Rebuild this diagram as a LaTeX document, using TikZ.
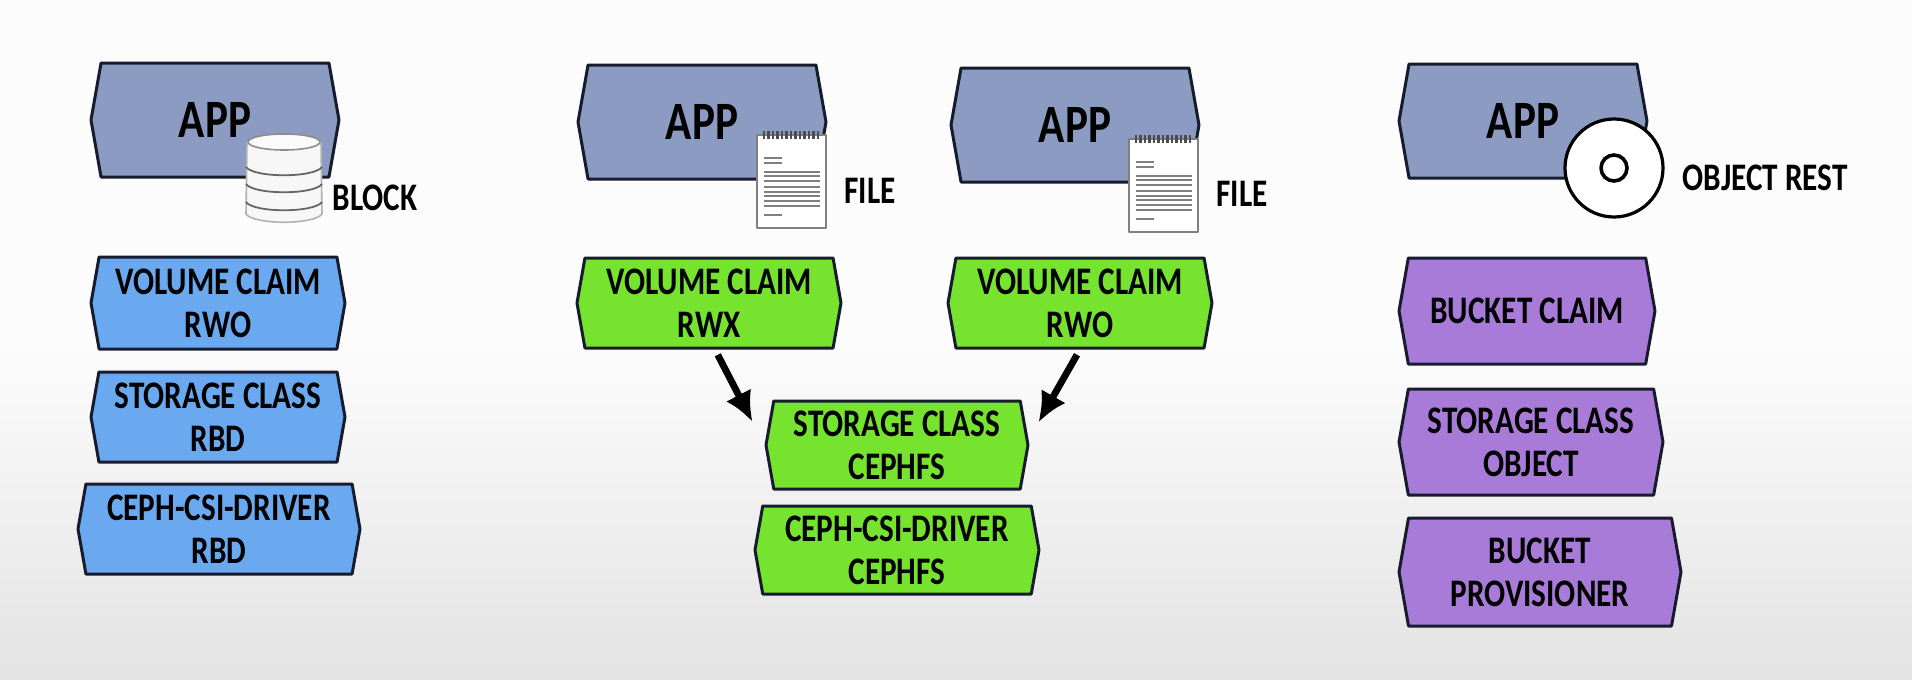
\documentclass[tikz,border=0pt]{standalone}
\usepackage{fontspec}
\newfontfamily\boxfont{Carlito}[FakeStretch=0.8]
\usepackage{tikz}
\usetikzlibrary{arrows.meta, shapes.symbols}

\definecolor{appfill}{HTML}{8B9BC2}
\definecolor{blockfill}{HTML}{6AA9EF}
\definecolor{filefill}{HTML}{76E32F}
\definecolor{objectfill}{HTML}{A97BD9}
\definecolor{edgecol}{HTML}{161C2E}

\tikzset{
  tag/.style={shape=signal, signal to=west and east, signal pointer angle=160,
    draw=edgecol, line width=1.5pt, inner sep=0pt, align=center, text=black,
    font=\boxfont\bfseries\fontsize{19.5}{21.5}\selectfont},
  apptag/.style={tag, fill=appfill, minimum width=124pt, minimum height=57pt,
    font=\boxfont\bfseries\fontsize{27}{30}\selectfont},
  blocktag/.style={tag, fill=blockfill},
  filetag/.style={tag, fill=filefill},
  objecttag/.style={tag, fill=objectfill},
  side/.style={inner sep=0pt, font=\boxfont\bfseries\fontsize{19.5}{21.5}\selectfont},
  flow/.style={-{Latex[length=15pt,width=14pt]}, line width=3.4pt, shorten <=3pt, shorten >=13pt},
  notebook/.pic={
    \draw[black!50, line width=1.2pt, fill=white] (0,5) rectangle (69,98);
    \foreach \xpos in {7,11.5,...,64} \draw[black!70, line width=1.3pt] (\xpos,1) -- (\xpos,9);
    \foreach \ypos in {28,33,85} \draw[black!50, line width=0.7pt] (7,\ypos) -- (25,\ypos);
    \foreach \ypos in {42,46,51,57,62,66,71,76} \draw[black!50, line width=0.9pt] (7,\ypos) -- (63,\ypos);
  },
  dbstack/.pic={
    \draw[black!30, line width=0.8pt, fill=black!3] (-37,-36) -- (-38,36)
      .. controls (-30,47) and (30,47) .. (38,36) -- (37,-36) -- cycle;
    \foreach \ypos in {-11,6,24}
      \draw[black!60, line width=0.9pt] (-38,\ypos) .. controls (-30,\ypos+11) and (30,\ypos+11) .. (38,\ypos);
    \draw[black!45, line width=0.8pt, fill=black!2] (0,-36) ellipse [x radius=36, y radius=8];
  }
}

\begin{document}
\begin{tikzpicture}[x=0.5pt, y=-0.5pt, >=Latex, line join=round]

  \useasboundingbox (0,0) rectangle (1912,680);
  \fill[white!99!black] (0,0) rectangle (1912,340);
  \shade[top color=white!99!black, bottom color=black!11] (0,340) rectangle (1912,680);

  %--------------------------
  % Block column
  %--------------------------
  \node[apptag] (appblock) at (215,120) {APP};
  \pic at (284,178) {dbstack};
  \node[side] (blocklabel) at (375,198) {BLOCK};

  \node[blocktag, minimum width=127pt, minimum height=46pt] (claimblock) at (218,303) {VOLUME CLAIM\\RWO};
  \node[blocktag, minimum width=127pt, minimum height=45pt] (classblock) at (218,417) {STORAGE CLASS\\RBD};
  \node[blocktag, minimum width=141pt, minimum height=45pt] (driverblock) at (219,529) {CEPH-CSI-DRIVER\\RBD};

  %--------------------------
  % File column
  %--------------------------
  \node[apptag] (appfileleft) at (702,122) {APP};
  \pic at (757,130) {notebook};
  \node[side] (fileleft) at (870,191) {FILE};

  \node[apptag] (appfileright) at (1075,125) {APP};
  \pic at (1129,134) {notebook};
  \node[side] (fileright) at (1242,194) {FILE};

  \node[filetag, minimum width=132pt, minimum height=45pt] (claimrwx) at (709,303) {VOLUME CLAIM\\RWX};
  \node[filetag, minimum width=132pt, minimum height=45pt] (claimrwo) at (1080,303) {VOLUME CLAIM\\RWO};
  \node[filetag, minimum width=131pt, minimum height=44pt] (classfile) at (897,445) {STORAGE CLASS\\CEPHFS};
  \node[filetag, minimum width=142pt, minimum height=44pt] (driverfile) at (897,550) {CEPH-CSI-DRIVER\\CEPHFS};

  % Claims into class
  \draw[flow] ([xshift=3pt]claimrwx.south) -- (classfile.west);
  \draw[flow] (claimrwo.south) -- ([xshift=-2pt]classfile.east);

  %--------------------------
  % Object column
  %--------------------------
  \node[apptag] (appobject) at (1523,121) {APP};
  \node[circle, draw=black, fill=white, line width=1.6pt, minimum size=49pt, inner sep=0pt] (disc) at (1614,168) {};
  \node[circle, draw=black, fill=white, line width=1.8pt, minimum size=13pt, inner sep=0pt] (dischole) at (disc) {};
  \node[side] (objectlabel) at (1765,178) {OBJECT REST};

  \node[objecttag, minimum width=128pt, minimum height=53pt] (claimobject) at (1527,311) {BUCKET CLAIM};
  \node[objecttag, minimum width=132pt, minimum height=53pt] (classobject) at (1531,442) {STORAGE CLASS\\OBJECT};
  \node[objecttag, minimum width=141pt, minimum height=54pt] (provisioner) at (1540,572) {BUCKET\\PROVISIONER};

\end{tikzpicture}
\end{document}
